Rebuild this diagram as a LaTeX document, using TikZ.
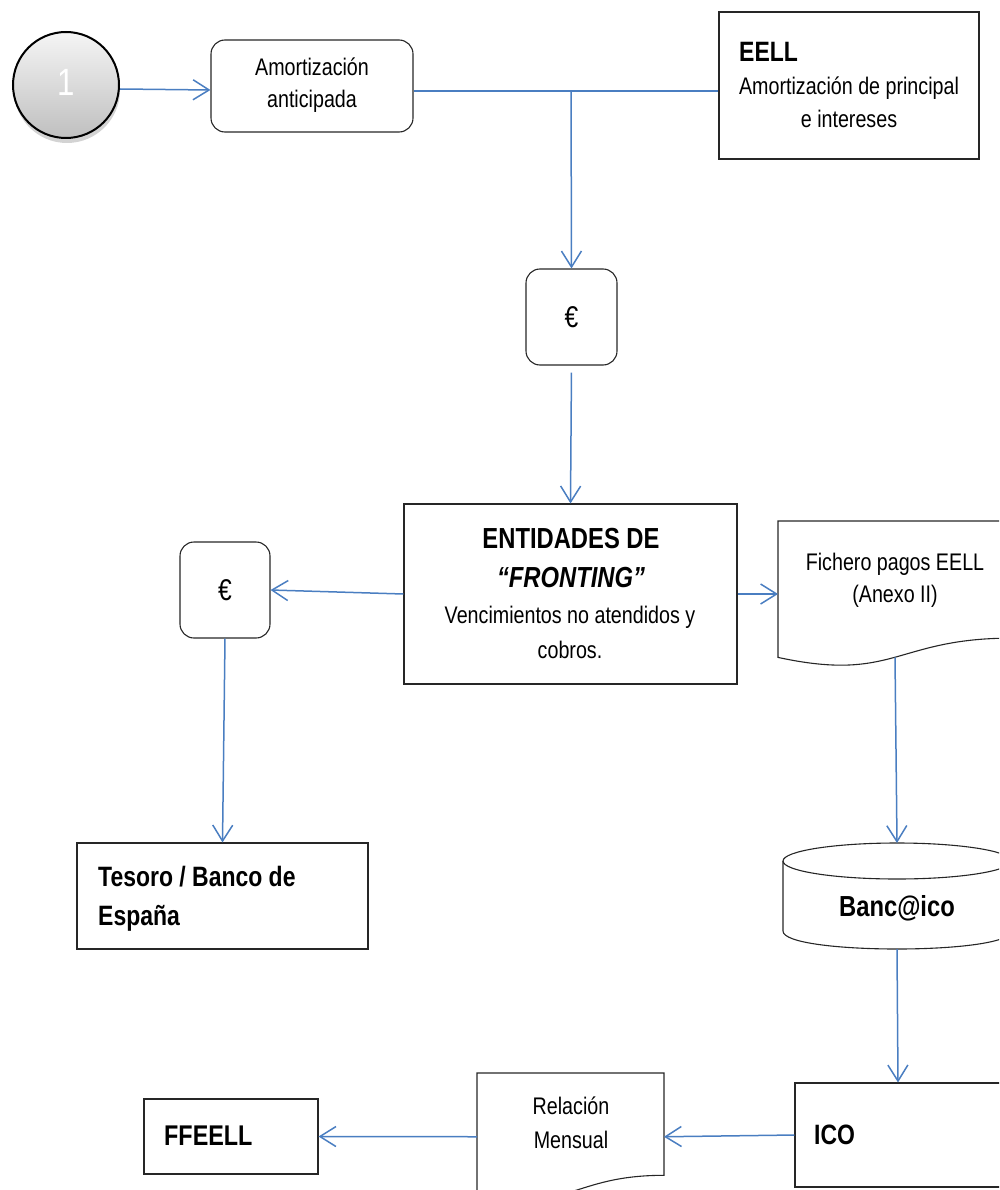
\documentclass[tikz,border=0pt]{standalone}
\usepackage{fontspec}
\setmainfont{Liberation Sans}[FakeStretch=0.82]
\usetikzlibrary{arrows.meta,shadows,calc}
\definecolor{lnblue}{RGB}{74,126,193}
\begin{document}
\begin{tikzpicture}[x=1pt,y=-1pt,
  box/.style={draw=black!85, line width=1.1pt, inner sep=0pt},
  rbox/.style={box, rounded corners=14pt},
  ghost/.style={inner sep=0pt, outer sep=0pt},
  arr/.style={draw=lnblue, line width=1.5pt, -{Straight Barb[length=16pt,width=20pt]}},
  ln/.style={draw=lnblue, line width=1.5pt},
  rt/.style={font=\fontsize{24}{30}\selectfont, inner sep=0pt, anchor=base},
  bt/.style={font=\fontsize{28}{34}\selectfont\bfseries, inner sep=0pt, anchor=base},
  eur/.style={font=\fontsize{30}{34}\selectfont, inner sep=0pt, anchor=base},
]
\useasboundingbox (0,0) rectangle (999,1190);
\clip (0,0) rectangle (999,1190);

% start circle
\node[circle, minimum size=106pt, draw=black, line width=2pt, top color=gray!8, bottom color=gray!50,
  drop shadow={opacity=0.35, shadow xshift=1pt, shadow yshift=-5pt}, inner sep=0pt] (c1) at (66,85) {};
\node[ghost, anchor=base, text=white, font=\fontsize{38}{38}\selectfont] (c1T) at (66,96) {1};

% Amortizacion anticipada
\node[rbox, minimum width=202pt, minimum height=92pt] (am) at (312,86) {};
\node[rt] (amT1) at (312,76) {Amortización};
\node[rt] (amT2) at (312,108) {anticipada};

% EELL
\node[box, minimum width=260pt, minimum height=147pt] (eell) at (849,85.5) {};
\node[bt, anchor=base west, font=\fontsize{28}{32}\selectfont\bfseries] (eellT) at (739,62) {EELL};
\node[rt] (eellA1) at (849,95) {Amortización de principal};
\node[rt] (eellA2) at (849,128) {e intereses};

% euro 1
\node[rbox, minimum width=91pt, minimum height=96pt] (e1) at (571.5,317) {};
\node[eur] (e1T) at (571.5,327) {€};

% Fronting
\node[box, minimum width=333pt, minimum height=180pt] (fr) at (570.5,594) {};
\node[bt, font=\fontsize{29}{34}\selectfont\bfseries] (frT1) at (571,548) {ENTIDADES DE};
\node[bt, font=\fontsize{29}{34}\selectfont\bfseries\itshape] (frT2) at (571,587) {“FRONTING”};
\node[rt] (frT3) at (570,623) {Vencimientos no atendidos y};
\node[rt] (frT4) at (570,658) {cobros.};

% euro 2
\node[rbox, minimum width=90pt, minimum height=96pt] (e2) at (225,590) {};
\node[eur] (e2T) at (225,600) {€};

% Tesoro
\node[box, minimum width=291pt, minimum height=106pt] (tes) at (222.5,896) {};
\node[bt, anchor=base west] (tesT1) at (98,886) {Tesoro / Banco de};
\node[bt, anchor=base west] (tesT2) at (98,925) {España};

% Fichero (document shape)
\node[ghost, minimum width=234pt, minimum height=146pt] (fich) at (895,594) {};
\draw[box] (778,521) -- (1012,521) -- (1012,638.1) .. controls (895,638.1) and (895,682.7) .. (778,657.4) -- cycle;
\node[rt] (fichT1) at (895,570) {Fichero pagos EELL};
\node[rt] (fichT2) at (895,602) {(Anexo II)};
\coordinate (fichb) at (895,657.3);

% Banc@ico (cylinder)
\node[ghost, minimum width=228pt, minimum height=106pt] (cyl) at (897,896) {};
\draw[box] (897,861) ellipse [x radius=114, y radius=18];
\draw[box] (783,861) -- (783,931) .. controls (783,955) and (1011,955) .. (1011,931) -- (1011,861);
\node[bt, font=\fontsize{29}{34}\selectfont\bfseries] (cylT) at (897,916) {Banc@ico};

% ICO
\node[box, minimum width=206pt, minimum height=104pt] (ico) at (898,1135) {};
\node[bt, anchor=base west] (icoT) at (814,1144) {ICO};

% Relacion Mensual (document shape)
\node[ghost, minimum width=187pt, minimum height=127.5pt] (rel) at (570.5,1136.75) {};
\draw[box] (477,1073) -- (664,1073) -- (664,1175.3) .. controls (570.5,1175.3) and (570.5,1214.2) .. (477,1192.1) -- cycle;
\node[rt] (relT1) at (571,1114) {Relación};
\node[rt] (relT2) at (571,1148) {Mensual};

% FFEELL
\node[box, minimum width=174pt, minimum height=75pt] (ff) at (231,1136.5) {};
\node[bt, anchor=base west, font=\fontsize{28.5}{34}\selectfont\bfseries] (ffT) at (164,1145) {FFEELL};

% connectors
\draw[arr] ([yshift=-4pt]c1.east) -- ([yshift=-4pt]am.west);
\coordinate (j) at (571,91);
\draw[ln] (am.east |- j) -- (eell.west |- j);
\draw[arr] (j) -- (e1.north);
\draw[arr, shorten <=7pt] (e1.south) -- (fr.north);
\draw[arr] (fr.west) -- (e2.east);
\draw[arr] (e2.south) -- (tes.north);
\draw[arr] (fr.east) -- (fich.west);
\draw[arr] (fichb) -- (cyl.north);
\draw[arr] (cyl.south) -- (ico.north);
\draw[arr] (ico.west) -- (rel.east);
\draw[arr] (rel.west) -- (ff.east);
\end{tikzpicture}
\end{document}
